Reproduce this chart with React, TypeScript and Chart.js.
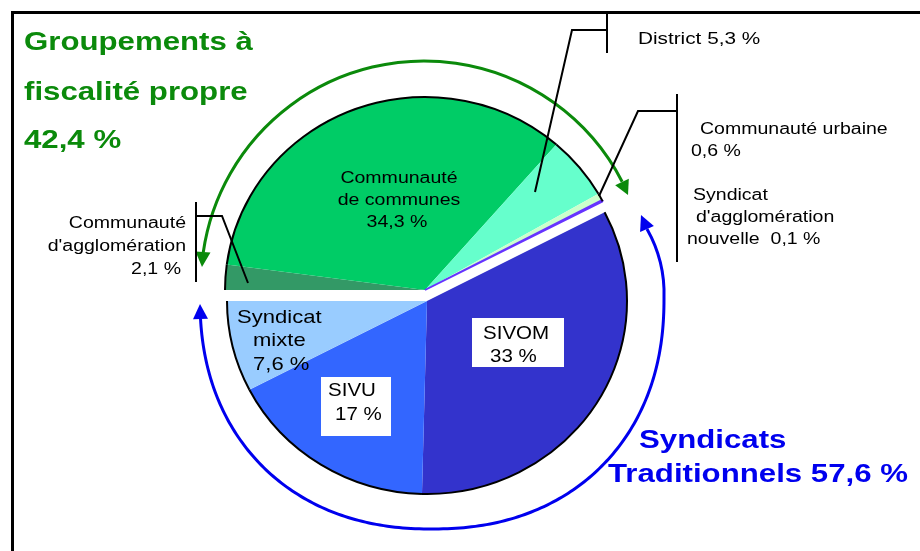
import React, { useEffect, useRef } from "react";
import { Chart, registerables } from "chart.js";

Chart.register(...registerables);

// ---------------- DATA ----------------
const categories = [
  "Communauté d'agglomération",
  "Communauté de communes",
  "District",
  "Communauté urbaine",
  "Syndicat d'agglomération nouvelle",
  "SIVOM",
  "SIVU",
  "Syndicat mixte",
];
const shares = [2.1, 34.3, 5.3, 0.6, 0.1, 33, 17, 7.6];
const groupOf = ["fp", "fp", "fp", "fp", "fp", "st", "st", "st"];
const groupTitleLines: Record<string, string[]> = {
  fp: ["Groupements à", "fiscalité propre"],
  st: ["Syndicats", "Traditionnels"],
};
const sliceColors = ["#339966", "#00CC66", "#66FFCC", "#CCFFCC", "#6633FF", "#3333CC", "#3366FF", "#99CCFF"];
const sliceLabelLines = [
  ["Communauté", "d'agglomération", "{v}"],
  ["Communauté", "de communes", "{v}"],
  ["District {v}"],
  ["Communauté urbaine", "{v}"],
  ["Syndicat", "d'agglomération", "nouvelle  {v}"],
  ["SIVOM", "{v}"],
  ["SIVU", "{v}"],
  ["Syndicat", "mixte", "{v}"],
];

// ---------------- LAYOUT / STYLE ----------------
const FONT = '"Liberation Sans", Arial, sans-serif';
const groupShift: Record<string, { dx: number; dy: number }> = {
  fp: { dx: -1, dy: -5.5 },
  st: { dx: 1, dy: 5.5 },
};
const verticalSquash = 0.965;

type L = [number, number, CanvasTextAlign];
const labelLayout: { size: number; sx: number; lines: L[]; box?: number[] }[] = [
  { size: 16, sx: 1.22, lines: [[186, 228, "right"], [186, 251, "right"], [181, 274, "right"]] },
  { size: 16, sx: 1.22, lines: [[399, 183, "center"], [399, 205, "center"], [397, 227, "center"]] },
  { size: 17, sx: 1.22, lines: [[638, 44, "left"]] },
  { size: 16, sx: 1.22, lines: [[700, 134, "left"], [691, 156, "left"]] },
  { size: 16, sx: 1.22, lines: [[693, 200, "left"], [696, 222, "left"], [687, 244, "left"]] },
  { size: 19, sx: 1.08, lines: [[483, 339, "left"], [490, 362, "left"]], box: [472, 318, 92, 49] },
  { size: 19, sx: 1.08, lines: [[328, 396, "left"], [335, 420, "left"]], box: [321, 377, 70, 59] },
  { size: 19, sx: 1.16, lines: [[237, 323, "left"], [253, 346, "left"], [253, 370, "left"]] },
];
const groupTitleLayout: Record<string, { color: string; lines: [number, number][] }> = {
  fp: { color: "#0B8A0B", lines: [[24, 50], [24, 100], [24, 148]] },
  st: { color: "#0000EE", lines: [[639, 448], [608, 482]] },
};

const leaders: number[][][] = [
  [[535, 192], [572, 30], [607, 30]],
  [[607, 13], [607, 53]],
  [[599, 196], [638, 111], [677, 111]],
  [[677, 94], [677, 262]],
  [[248, 283], [222, 216], [196, 216]],
  [[196, 202], [196, 282]],
];

const greenArc = { cx: 424, cy: 284, r: 223, a0: -171.8, a1: -27.3 };
const greenHeads = [
  { tip: [202, 267], base: [203, 252] },
  { tip: [628, 195], base: [622, 182] },
];
// blue arrow: slightly squarish loop (superellipse) then a short bend up to the right head
const blueLoop = { cx: 432, cy: 298, a: 232, b: 231, n: 2.2 };
const blueTail = [[664, 298], [665, 268], [656, 245], [647, 229]];
const blueHeads = [
  { tip: [200, 304], base: [200.5, 319] },
  { tip: [641, 215], base: [647, 229] },
];

const fmt = (v: number) => String(Math.round(v * 10) / 10).replace(".", ",") + " %";
const groupTotal = (g: string) => shares.reduce((s, v, i) => (groupOf[i] === g ? s + v : s), 0);

function drawText(ctx: CanvasRenderingContext2D, text: string, x: number, y: number, font: string, sx: number, align: CanvasTextAlign, color: string) {
  ctx.save();
  ctx.translate(x, y);
  ctx.scale(sx, 1);
  ctx.font = font;
  ctx.textAlign = align;
  ctx.textBaseline = "alphabetic";
  ctx.fillStyle = color;
  ctx.fillText(text, 0, 0);
  ctx.restore();
}

function arrowHead(ctx: CanvasRenderingContext2D, tip: number[], base: number[], hw: number, color: string) {
  const dx = tip[0] - base[0];
  const dy = tip[1] - base[1];
  const len = Math.hypot(dx, dy) || 1;
  const nx = -dy / len;
  const ny = dx / len;
  ctx.beginPath();
  ctx.moveTo(tip[0], tip[1]);
  ctx.lineTo(base[0] + nx * hw, base[1] + ny * hw);
  ctx.lineTo(base[0] - nx * hw, base[1] - ny * hw);
  ctx.closePath();
  ctx.fillStyle = color;
  ctx.fill();
}

const explodedPie = {
  id: "explodedPie",
  beforeDatasetDraw() {
    return false;
  },
  afterDatasetsDraw(chart: any) {
    const ctx: CanvasRenderingContext2D = chart.ctx;
    const meta = chart.getDatasetMeta(0);
    const withGroup = (i: number, fn: (a: any) => void) => {
      const arc = meta.data[i];
      const sh = groupShift[groupOf[i]];
      ctx.save();
      ctx.translate(arc.x + sh.dx, arc.y + sh.dy);
      ctx.scale(1, verticalSquash);
      ctx.translate(-arc.x, -arc.y);
      fn(arc);
      ctx.restore();
    };
    meta.data.forEach((_: any, i: number) => withGroup(i, (arc) => arc.draw(ctx)));
    meta.data.forEach((_: any, i: number) =>
      withGroup(i, (arc) => {
        ctx.beginPath();
        ctx.arc(arc.x, arc.y, arc.outerRadius, arc.startAngle, arc.endAngle);
        ctx.strokeStyle = "#000";
        ctx.lineWidth = 2;
        ctx.stroke();
      })
    );
  },
};

const decorations = {
  id: "decorations",
  afterDraw(chart: any) {
    const ctx: CanvasRenderingContext2D = chart.ctx;
    ctx.save();
    // frame
    ctx.strokeStyle = "#000";
    ctx.lineWidth = 3;
    ctx.beginPath();
    ctx.moveTo(12.5, chart.height);
    ctx.lineTo(12.5, 12.5);
    ctx.lineTo(chart.width, 12.5);
    ctx.stroke();

    // green arrow
    ctx.strokeStyle = "#0B8A0B";
    ctx.lineWidth = 3;
    ctx.beginPath();
    ctx.arc(greenArc.cx, greenArc.cy, greenArc.r, (greenArc.a0 * Math.PI) / 180, (greenArc.a1 * Math.PI) / 180);
    ctx.stroke();
    greenHeads.forEach((h) => arrowHead(ctx, h.tip, h.base, 7.5, "#0B8A0B"));

    // blue arrow
    ctx.strokeStyle = "#0000EE";
    ctx.lineWidth = 3;
    ctx.beginPath();
    const { cx, cy, a, b, n } = blueLoop;
    const e = 2 / n;
    const tStart = Math.PI - Math.asin(Math.pow((blueHeads[0].base[1] - cy) / b, 1 / e));
    const steps = 200;
    for (let k = 0; k <= steps; k++) {
      const t = tStart * (1 - k / steps);
      const c = Math.cos(t);
      const s = Math.sin(t);
      const x = cx + a * Math.sign(c) * Math.pow(Math.abs(c), e);
      const y = cy + b * Math.sign(s) * Math.pow(Math.abs(s), e);
      if (k === 0) ctx.moveTo(x, y);
      else ctx.lineTo(x, y);
    }
    ctx.bezierCurveTo(blueTail[1][0], blueTail[1][1], blueTail[2][0], blueTail[2][1], blueTail[3][0], blueTail[3][1]);
    ctx.stroke();
    blueHeads.forEach((h) => arrowHead(ctx, h.tip, h.base, 7.5, "#0000EE"));

    // leader lines
    ctx.strokeStyle = "#000";
    ctx.lineWidth = 2;
    leaders.forEach((pl) => {
      ctx.beginPath();
      pl.forEach((p, k) => (k ? ctx.lineTo(p[0], p[1]) : ctx.moveTo(p[0], p[1])));
      ctx.stroke();
    });

    // slice labels
    sliceLabelLines.forEach((lines, i) => {
      const lay = labelLayout[i];
      if (lay.box) {
        ctx.fillStyle = "#fff";
        ctx.fillRect(lay.box[0], lay.box[1], lay.box[2], lay.box[3]);
      }
      lines.forEach((t, k) => {
        const [x, y, align] = lay.lines[k];
        drawText(ctx, t.replace("{v}", fmt(shares[i])), x, y, `${lay.size}px ${FONT}`, lay.sx, align, "#000");
      });
    });

    // group titles
    Object.keys(groupTitleLines).forEach((g) => {
      const lay = groupTitleLayout[g];
      const lines = [...groupTitleLines[g]];
      const pct = fmt(groupTotal(g));
      if (lay.lines.length > lines.length) lines.push(pct);
      else lines[lines.length - 1] += " " + pct;
      lines.forEach((t, k) => {
        drawText(ctx, t, lay.lines[k][0], lay.lines[k][1], `bold 26px ${FONT}`, 1.2, "left", lay.color);
      });
    });
    ctx.restore();
  },
};

export default function App() {
  const ref = useRef<HTMLCanvasElement>(null);
  useEffect(() => {
    document.body.style.margin = "0";
    const chart = new Chart(ref.current as HTMLCanvasElement, {
      type: "pie",
      data: {
        labels: categories,
        datasets: [
          {
            data: shares,
            backgroundColor: sliceColors,
            borderColor: sliceColors,
            borderWidth: [0, 0, 0, 0, 2, 0, 0, 0],
            hoverBorderWidth: [0, 0, 0, 0, 2, 0, 0, 0],
            offset: 0,
            hoverOffset: 0,
          } as any,
        ],
      },
      options: {
        responsive: false,
        animation: false,
        devicePixelRatio: 1,
        rotation: -90,
        events: [],
        layout: { padding: { left: 225, right: 293, top: 94.5, bottom: 54.5 } },
        plugins: {
          legend: { display: false },
          tooltip: { enabled: false },
          title: { display: false },
        },
      } as any,
      plugins: [explodedPie, decorations],
    });
    return () => chart.destroy();
  }, []);
  return (
    <div style={{ position: "absolute", left: 0, top: 0, width: 920, height: 551, background: "#fff" }}>
      <canvas ref={ref} width={920} height={551} style={{ display: "block" }} />
    </div>
  );
}
